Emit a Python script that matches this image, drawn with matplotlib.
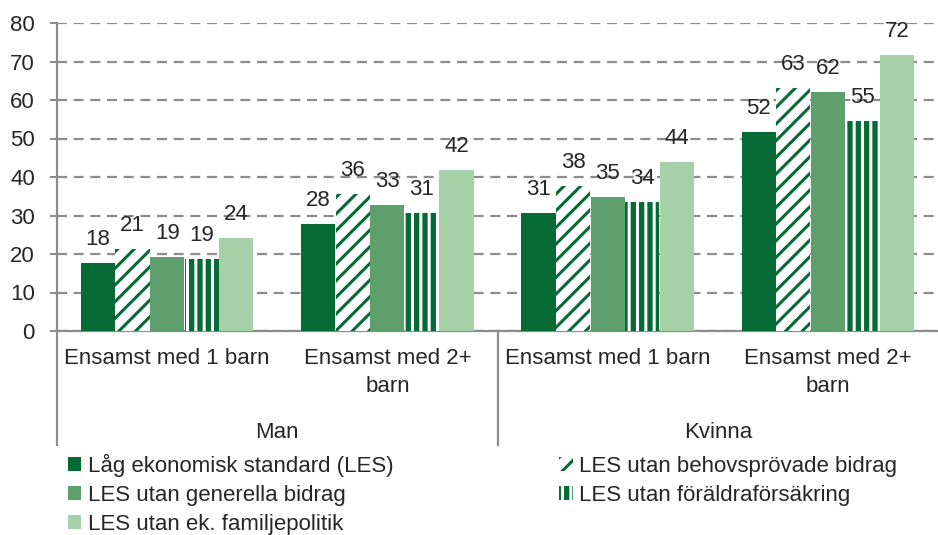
import matplotlib
matplotlib.use("Agg")
import matplotlib.pyplot as plt
from matplotlib.patches import Patch
import numpy as np

plt.rcParams["font.family"] = ["Liberation Sans", "DejaVu Sans"]
plt.rcParams["hatch.linewidth"] = 2.2

# Data
categories = ["Ensamst med 1 barn", "Ensamst med 2+\nbarn", "Ensamst med 1 barn", "Ensamst med 2+\nbarn"]
groups = ["Man", "Kvinna"]
series = [
    "Låg ekonomisk standard (LES)",
    "LES utan behovsprövade bidrag",
    "LES utan generella bidrag",
    "LES utan föräldraförsäkring",
    "LES utan ek. familjepolitik",
]
les = [17.7, 27.8, 30.6, 51.7]
les_behov = [21.3, 35.6, 37.7, 63.1]
les_generella = [19.2, 32.7, 34.8, 62.1]
les_foraldra = [18.7, 30.6, 33.6, 54.6]
les_familj = [24.2, 41.8, 43.9, 71.7]

dark = "#066A35"
mid = "#5F9F6E"
light = "#A5D0A8"
text_col = "#262626"
grid_col = "#8C8C8C"

# face colour, hatch colour (edge), hatch
styles = [
    dict(facecolor=dark, edgecolor=dark, hatch=None),
    dict(facecolor="white", edgecolor=dark, hatch="//"),
    dict(facecolor=mid, edgecolor=mid, hatch=None),
    dict(facecolor=dark, edgecolor="white", hatch="||"),
    dict(facecolor=light, edgecolor=light, hatch=None),
]
values = [les, les_behov, les_generella, les_foraldra, les_familj]

fig = plt.figure(figsize=(9.38, 5.35), dpi=100)
ax = fig.add_axes([57 / 938, 204 / 535, 881 / 938, 308 / 535])

x = np.arange(len(categories)) + 0.5
width = 0.155
step = 0.157
for i, (vals, st) in enumerate(zip(values, styles)):
    pos = x + (i - 2) * step
    bars = ax.bar(pos, vals, width, linewidth=0, zorder=3, **st)
    for b, v in zip(bars, vals):
        ax.annotate(f"{v:.0f}", (b.get_x() + b.get_width() / 2, v), xytext=(0, 13),
                    textcoords="offset points", ha="center", va="baseline",
                    fontsize=16, color=text_col, annotation_clip=False, zorder=4)

ax.set_xlim(0, 4)
ax.set_ylim(0, 80)
ax.set_yticks(range(0, 81, 10))
ax.yaxis.grid(True, color=grid_col, linestyle=(0, (4.5, 3)), linewidth=1.6, zorder=0)
ax.tick_params(axis="y", labelsize=16, labelcolor=text_col, color=grid_col, length=5, width=1.5, pad=11)
ax.set_xticks([])
for s in ["top", "right"]:
    ax.spines[s].set_visible(False)
for s in ["left", "bottom"]:
    ax.spines[s].set_color(grid_col)
    ax.spines[s].set_linewidth(1.6)

# Category labels and group labels below the axis
tr = ax.get_xaxis_transform()
for xi, c in zip(x, categories):
    ax.text(xi, -0.055, c, transform=tr, ha="center", va="top", fontsize=16,
            color=text_col, linespacing=1.45)
for gi, g in enumerate(groups):
    ax.text(1 + 2 * gi, -0.33, g, transform=tr, ha="center", va="center", fontsize=16, color=text_col)
for sx in [0, 2]:
    ax.plot([sx, sx], [0, -0.37], transform=tr, color=grid_col, lw=1.6, clip_on=False)

handles = [Patch(linewidth=0, **st) for st in styles]
order = [0, 2, 4, 1, 3]
fig.legend([handles[i] for i in order], [series[i] for i in order], loc="upper left",
           bbox_to_anchor=(68 / 938, 1 - 454 / 535), ncol=2, frameon=False,
           fontsize=16, handlelength=0.6, handleheight=0.6, handletextpad=0.3,
           labelspacing=0.36, columnspacing=7.45, borderpad=0, borderaxespad=0,
           labelcolor=text_col)

fig.savefig("out.png", dpi=100)
